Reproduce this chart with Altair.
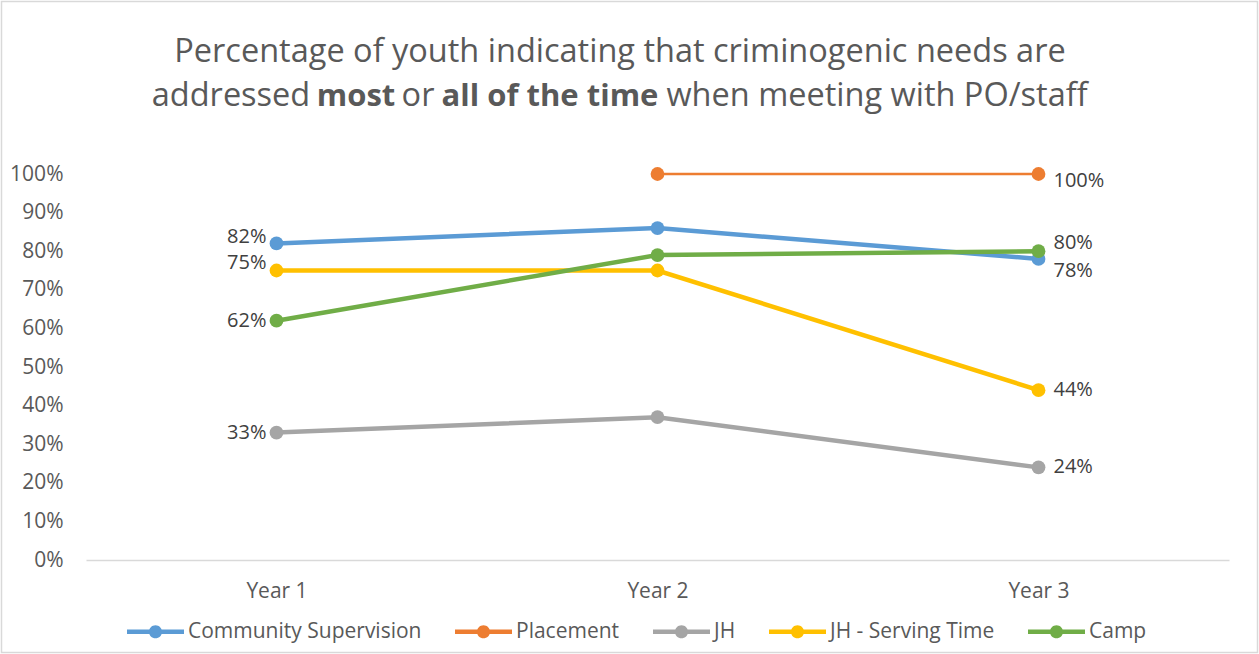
import altair as alt
import pandas as pd

# ---- data -------------------------------------------------------------
years = ["Year 1", "Year 2", "Year 3"]
series = ["Community Supervision", "Placement", "JH", "JH - Serving Time", "Camp"]
colors = ["#5B9BD5", "#ED7D31", "#A5A5A5", "#FFC000", "#70AD47"]

community_supervision = [0.82, 0.86, 0.78]
placement = [None, 1.00, 1.00]
jh = [0.33, 0.37, 0.24]
jh_serving_time = [0.75, 0.75, 0.44]
camp = [0.62, 0.79, 0.80]

y_ticks = [0.0, 0.1, 0.2, 0.3, 0.4, 0.5, 0.6, 0.7, 0.8, 0.9, 1.0]

values = [community_supervision, placement, jh, jh_serving_time, camp]

rows = []
for name, vals in zip(series, values):
    for yr, v in zip(years, vals):
        if v is not None:
            rows.append({"series": name, "year": yr, "value": v})
df = pd.DataFrame(rows)

# value labels are shown at the first and last year only
labels = df[df["year"].isin(["Year 1", "Year 3"])].copy()

# small vertical nudges so overlapping labels stay readable
nudge = {
    ("Year 1", "Community Supervision"): -6,
    ("Year 1", "JH - Serving Time"): -8,
    ("Year 3", "Placement"): 7,
    ("Year 3", "Camp"): -8,
    ("Year 3", "Community Supervision"): 12,
}
labels["nudge"] = [nudge.get((y, s), 0) for y, s in zip(labels["year"], labels["series"])]

# ---- layout -----------------------------------------------------------
W, H = 1143, 386
PAD = {"left": 86, "top": 174, "right": 30, "bottom": 94}
FONT = "Open Sans"
GREY_TXT = "#595959"
LABEL_TXT = "#404040"
TICK_FS = 21

x_enc = alt.X(
    "year:N",
    sort=years,
    scale=alt.Scale(type="point", padding=0.5),
    axis=alt.Axis(
        title=None, labelAngle=0, ticks=False, tickSize=0, domainColor="#D9D9D9",
        domainWidth=1.5, labelFont=FONT, labelFontSize=TICK_FS, labelColor=GREY_TXT,
        labelPadding=20, grid=False,
    ),
)
y_enc = alt.Y(
    "value:Q",
    scale=alt.Scale(domain=[0, 1], nice=False),
    axis=alt.Axis(
        title=None, format=".0%", values=y_ticks, tickCount=11, ticks=False,
        tickSize=0, domain=False, grid=False, labelFont=FONT, labelFontSize=TICK_FS,
        labelColor=GREY_TXT, labelPadding=23, labelOverlap=False,
    ),
)
color_scale = alt.Scale(domain=series, range=colors)

# legend swatch: a short thick line with a round marker in the middle
legend_symbol = (
    "M-1,-0.075L1,-0.075L1,0.075L-1,0.075Z "
    "M0.23,0A0.23,0.23 0 1,1 -0.23,0A0.23,0.23 0 1,1 0.23,0Z"
)
legend = alt.Legend(
    title=None, orient="none", direction="horizontal",
    legendX=41, legendY=429, symbolType=legend_symbol, symbolSize=3249,
    symbolStrokeWidth=0, symbolOpacity=1, labelFont=FONT, labelFontSize=TICK_FS,
    labelColor=GREY_TXT, labelOffset=4, columnPadding=33, labelLimit=400,
)

base = alt.Chart(df)

# draws nothing itself; carries the legend definition with filled swatches
legend_carrier = base.mark_point(filled=True, opacity=1).encode(
    x=x_enc,
    y=y_enc,
    color=alt.Color("series:N", scale=color_scale, legend=legend),
).transform_filter("false")

lines = base.mark_line(strokeCap="round").encode(
    x=x_enc,
    y=y_enc,
    color=alt.Color("series:N", scale=color_scale),
    strokeWidth=alt.condition(
        "datum.series == 'Placement'", alt.value(2.5), alt.value(4.5)
    ),
    detail="series:N",
)

points = base.mark_point(filled=True, size=190, opacity=1).encode(
    x=x_enc,
    y=y_enc,
    color=alt.Color("series:N", scale=color_scale),
)

label_layers = []
for (yr, dy), grp in labels.groupby(["year", "nudge"]):
    left = yr == "Year 1"
    label_layers.append(
        alt.Chart(grp).mark_text(
            align="right" if left else "left",
            baseline="middle",
            dx=-10 if left else 15,
            dy=int(dy),
            font=FONT,
            fontSize=20,
            color=LABEL_TXT,
        ).encode(
            x=x_enc,
            y=y_enc,
            text=alt.Text("value:Q", format=".0%"),
        )
    )

# ---- title (second line mixes regular and bold runs) -------------------
title_runs = [
    ("Percentage of youth indicating that criminogenic needs are", "normal", 32.5, 620, 62),
    ("addressed", "normal", 32.5, 231, 106),
    ("most", "bold", 31, 356, 106),
    ("or", "normal", 32.5, 418, 106),
    ("all of the time", "bold", 31, 550, 106),
    ("when meeting with PO/staff", "normal", 32.5, 877, 106),
]
title_layers = []
for text, weight, size, cx, base_y in title_runs:
    title_layers.append(
        alt.Chart(pd.DataFrame({"t": [text]})).mark_text(
            align="center", baseline="alphabetic", font=FONT, fontSize=size,
            fontWeight=weight, color=GREY_TXT,
        ).encode(
            x=alt.value(cx - PAD["left"]),
            y=alt.value(base_y - PAD["top"]),
            text="t:N",
        )
    )

# outer frame around the whole chart
frame = alt.Chart(pd.DataFrame({"k": [0]})).mark_rect(
    filled=False, stroke="#D9D9D9", strokeWidth=1.5
).encode(
    x=alt.value(1.5 - PAD["left"]),
    x2=alt.value(1257.5 - PAD["left"]),
    y=alt.value(1.5 - PAD["top"]),
    y2=alt.value(652.5 - PAD["top"]),
)

chart = alt.layer(
    legend_carrier, frame, lines, points, *label_layers, *title_layers
).properties(
    width=W,
    height=H,
    autosize=alt.AutoSizeParams(type="none"),
    padding=PAD,
    background="white",
).configure_view(stroke=None).configure_axis(labelOverlap=False)

chart.save("out.html", embed_options={"renderer": "svg", "actions": False})
